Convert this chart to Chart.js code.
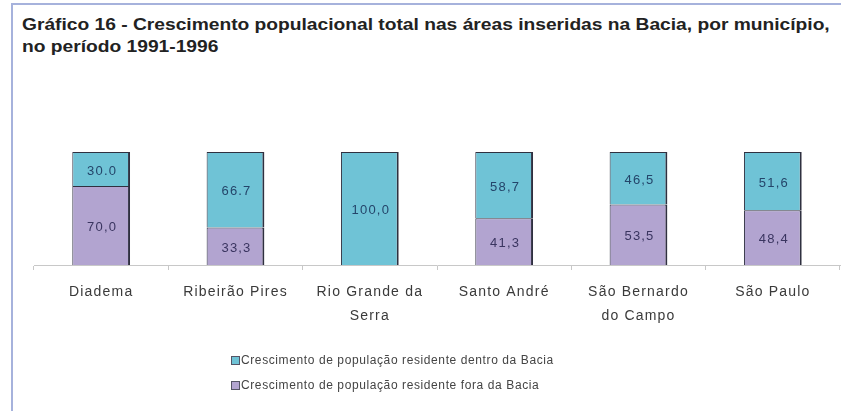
<!DOCTYPE html>
<html>
<head>
<meta charset="utf-8">
<script src="https://cdn.jsdelivr.net/npm/chart.js@4/dist/chart.umd.min.js"></script>
<style>
html,body{margin:0;padding:0;background:#fff;}
#wrap{position:relative;width:841px;height:411px;overflow:hidden;font-family:"Liberation Sans",Arial,sans-serif;}
#frame{position:absolute;left:11px;top:3px;width:840px;height:420px;border-left:2px solid #a6b2dc;border-top:2px solid #a6b2dc;}
#title{position:absolute;left:22px;top:14px;font-weight:bold;font-size:16px;line-height:22px;color:#222;white-space:nowrap;transform:scaleX(1.2);transform-origin:0 0;}
#c{position:absolute;left:0;top:0;}
.leg{position:absolute;left:231px;font-size:12px;letter-spacing:0.6px;color:#444;white-space:nowrap;line-height:14px;}
.leg span.box{display:inline-block;width:7px;height:7px;border:1px solid #556;margin-right:1px;vertical-align:-1px;}
</style>
</head>
<body>
<div id="wrap">
<div id="frame"></div>
<div id="title">Gráfico 16 - Crescimento populacional total nas áreas inseridas na Bacia, por município,<br>no período 1991-1996</div>
<canvas id="c" width="841" height="411"></canvas>
<div class="leg" id="leg0" style="top:353px"></div>
<div class="leg" id="leg1" style="top:378px"></div>
</div>
<script>
const categories = [["Diadema"], ["Ribeirão Pires"], ["Rio Grande da", "Serra"], ["Santo André"], ["São Bernardo", "do Campo"], ["São Paulo"]];
const seriesNames = ["Crescimento de população residente dentro da Bacia", "Crescimento de população residente fora da Bacia"];
const dentroValues = [30.0, 66.7, 100.0, 58.7, 46.5, 51.6];
const foraValues = [70.0, 33.3, 0, 41.3, 53.5, 48.4];
const dentroLabels = ["30.0", "66.7", "100,0", "58,7", "46,5", "51,6"];
const foraLabels = ["70,0", "33,3", "", "41,3", "53,5", "48,4"];

const cyan = "#6fc3d6";
const purple = "#b2a4d0";

const spacing = {
  id: "spacing",
  beforeDraw(chart) { chart.ctx.letterSpacing = "1.2px"; }
};

const valueLabels = {
  id: "valueLabels",
  afterDatasetsDraw(chart) {
    const ctx = chart.ctx;
    ctx.save();
    ctx.font = "13px 'Liberation Sans', Arial, sans-serif";
    ctx.letterSpacing = "1.2px";
    ctx.textAlign = "center";
    ctx.textBaseline = "middle";
    chart.data.datasets.forEach((ds, di) => {
      const meta = chart.getDatasetMeta(di);
      meta.data.forEach((bar, i) => {
        const txt = ds.valueText[i];
        if (!txt) return;
        const yMid = (bar.y + bar.base) / 2 + 2;
        ctx.fillStyle = ds.textColor;
        ctx.fillText(txt, bar.x + 1, yMid);
      });
    });
    ctx.restore();
  }
};

new Chart(document.getElementById("c"), {
  type: "bar",
  data: {
    labels: categories,
    datasets: [
      { label: seriesNames[1], data: foraValues, valueText: foraLabels, textColor: "#3a3560",
        backgroundColor: purple, borderColor: "#2f3040", borderWidth: {top: 1, left: 1, right: 2, bottom: 0}, borderSkipped: false,
        barPercentage: 0.43, categoryPercentage: 1 },
      { label: seriesNames[0], data: dentroValues, valueText: dentroLabels, textColor: "#24456a",
        backgroundColor: cyan, borderColor: "#2f3040", borderWidth: {top: 1, left: 1, right: 2, bottom: 0}, borderSkipped: false,
        barPercentage: 0.43, categoryPercentage: 1 }
    ]
  },
  options: {
    responsive: false,
    animation: false,
    layout: { padding: { top: 152, left: 34, right: 1, bottom: 73 } },
    plugins: { legend: { display: false }, tooltip: { enabled: false }, title: { display: false } },
    scales: {
      x: {
        stacked: true,
        offset: true,
        grid: { display: true, drawOnChartArea: false, offset: true, tickLength: 5, color: "#c8c8c8" },
        border: { display: true, color: "#c8c8c8", width: 1 },
        ticks: { color: "#3a3a3a", padding: 10, maxRotation: 0, autoSkip: false,
          font: { family: "'Liberation Sans', Arial, sans-serif", size: 14, lineHeight: 1.714 } }
      },
      y: { stacked: true, display: false, min: 0, max: 100 }
    }
  },
  plugins: [spacing, valueLabels]
});

const legColors = [cyan, purple];
[0, 1].forEach(i => {
  const el = document.getElementById("leg" + i);
  const box = document.createElement("span");
  box.className = "box";
  box.style.background = legColors[i];
  el.appendChild(box);
  el.appendChild(document.createTextNode(seriesNames[i]));
});
</script>
</body>
</html>
